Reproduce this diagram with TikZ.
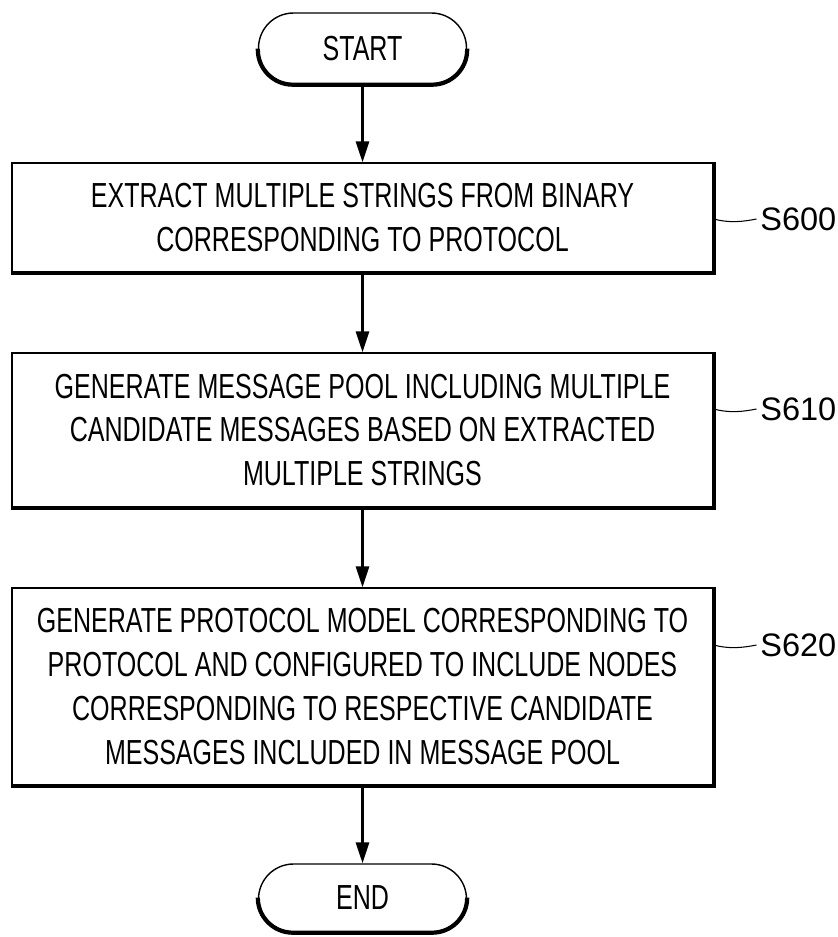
\documentclass[tikz,border=0pt]{standalone}
\usepackage{fontspec}
\setmainfont{Liberation Sans}[FakeStretch=0.72]
\newfontfamily\steplabelfont{Liberation Sans}
\usetikzlibrary{arrows.meta}

\begin{document}
\begin{tikzpicture}[x=0.02cm, y=-0.02cm,
    procbox/.style={draw, line width=0.8pt, minimum width=14.02cm, align=center, inner sep=0pt,
        font=\fontsize{19.8}{25}\selectfont},
    termbox/.style={draw, line width=0.8pt, rounded corners=0.7cm, minimum width=4.16cm,
        minimum height=1.42cm, font=\fontsize{19.8}{25}\selectfont},
    shadowline/.style={line width=2.4pt},
    flow/.style={line width=1.6pt, -{Triangle[length=0.42cm, width=0.26cm]}},
    steplabel/.style={anchor=west, inner sep=0pt, font=\steplabelfont\fontsize{18.5}{22}\selectfont},
    leader/.style={line width=0.6pt}]
    \useasboundingbox (0, 0) rectangle (838, 937);

    \node[termbox] (start) at (362.5, 48.5) {START};
    \node[procbox, minimum height=2.18cm] (s600) at (362.5, 217.5)
        {EXTRACT MULTIPLE STRINGS FROM BINARY\\CORRESPONDING TO PROTOCOL};
    \node[procbox, minimum height=3.08cm] (s610) at (362.5, 430)
        {GENERATE MESSAGE POOL INCLUDING MULTIPLE\\CANDIDATE MESSAGES BASED ON EXTRACTED\\MULTIPLE STRINGS};
    \node[procbox, minimum height=3.94cm] (s620) at (362.5, 686.5)
        {GENERATE PROTOCOL MODEL CORRESPONDING TO\\PROTOCOL AND CONFIGURED TO INCLUDE NODES\\CORRESPONDING TO RESPECTIVE CANDIDATE\\MESSAGES INCLUDED IN MESSAGE POOL};
    \node[termbox, minimum height=1.36cm] (stop) at (362.5, 898) {END};

    \node[steplabel] (lab600) at (760, 219) {S600};
    \node[steplabel] (lab610) at (760, 409) {S610};
    \node[steplabel] (lab620) at (760, 645) {S620};

    % heavy lower and right edges
    \draw[shadowline, rounded corners=0.7cm] (start.west) |- (start.south) -| (start.east);
    \draw[shadowline, rounded corners=0.7cm] (stop.west) |- (stop.south) -| (stop.east);
    \draw[shadowline] (s600.north east) -- (s600.south east) -- (s600.south west);
    \draw[shadowline] (s610.north east) -- (s610.south east) -- (s610.south west);
    \draw[shadowline] (s620.north east) -- (s620.south east) -- (s620.south west);

    \draw[flow] (start) -- (s600);
    \draw[flow] (s600) -- (s610);
    \draw[flow] (s610) -- (s620);
    \draw[flow] (s620) -- (stop);

    \draw[leader] (s600.east |- lab600.west) .. controls +(15, 4) and +(-15, 3) .. ([xshift=-2pt]lab600.west);
    \draw[leader] (s610.east |- lab610.west) .. controls +(15, 4) and +(-15, 3) .. ([xshift=-2pt]lab610.west);
    \draw[leader] (s620.east |- lab620.west) .. controls +(15, 4) and +(-15, 3) .. ([xshift=-2pt]lab620.west);
\end{tikzpicture}
\end{document}
